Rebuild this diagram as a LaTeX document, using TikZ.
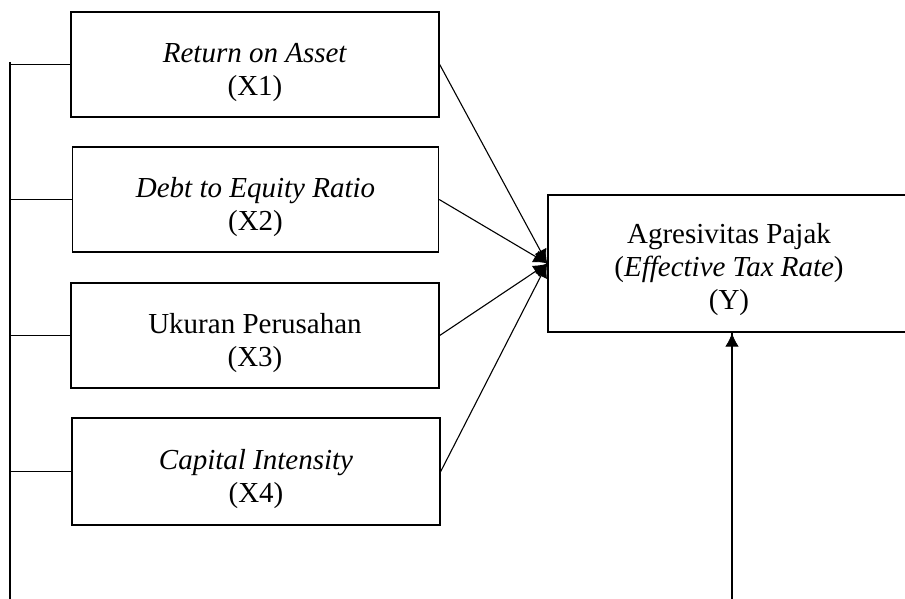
\documentclass[tikz,border=0pt]{standalone}
\usepackage{fontspec}
\setmainfont{Liberation Serif}
\usepackage{tikz}
\usetikzlibrary{positioning, calc, arrows.meta, decorations.markings}
\newcommand{\topstrut}{\rule{0pt}{18pt}}
\tikzstyle{Box} = [
draw,
line width=0.7pt,
inner sep=0pt,
align=center,
font=\fontsize{14.5}{16.5}\selectfont]
\tikzstyle{Line} = [
line width=0.55pt]
\tikzstyle{Arrow} = [
line width=0.55pt,
decoration={
markings,
mark=at position 0.9999 with {
\arrow{Latex[length=7pt,width=7pt]}}},
preaction = {decorate}]

\begin{document}
\begin{tikzpicture}[x=0.5pt, y=-0.5pt]
    \useasboundingbox (0,0) rectangle (905,599);
    \node [Box, minimum width=184pt, minimum height=52.5pt] (1) at (255,64.5) {\topstrut\textit{Return on Asset}\\(X1)};
    \node [Box, minimum width=183pt, minimum height=52.5pt] (2) at (255.5,199.5) {\topstrut\textit{Debt to Equity Ratio}\\(X2)};
    \node [Box, minimum width=184pt, minimum height=52.5pt] (3) at (255,335.5) {\topstrut Ukuran Perusahan\\(X3)};
    \node [Box, minimum width=184pt, minimum height=53.5pt] (4) at (256,471.5) {\topstrut\textit{Capital Intensity}\\(X4)};
    \node [Box, minimum width=181pt, minimum height=68.5pt] (5) at (729,263.5) {\rule{0pt}{16pt}Agresivitas Pajak\\(\textit{Effective Tax Rate})\\(Y)};
    \coordinate (6) at (10,62);
    \coordinate (7) at (10,599);
    \coordinate (8) at (732,599);

    \draw[Line] (6)--(7);
    \draw[Line] (1.west)--(1.west -| 6);
    \draw[Line] (2.west)--(2.west -| 6);
    \draw[Line] (3.west)--(3.west -| 6);
    \draw[Line] (4.west)--(4.west -| 6);
    \draw[Arrow] (1.east) to (5.west);
    \draw[Arrow] (2.east) to (5.west);
    \draw[Arrow] (3.east) to (5.west);
    \draw[Arrow] (4.east) to (5.west);
    \draw[Arrow] (8) to (8 |- 5.south);
\end{tikzpicture}
\end{document}
